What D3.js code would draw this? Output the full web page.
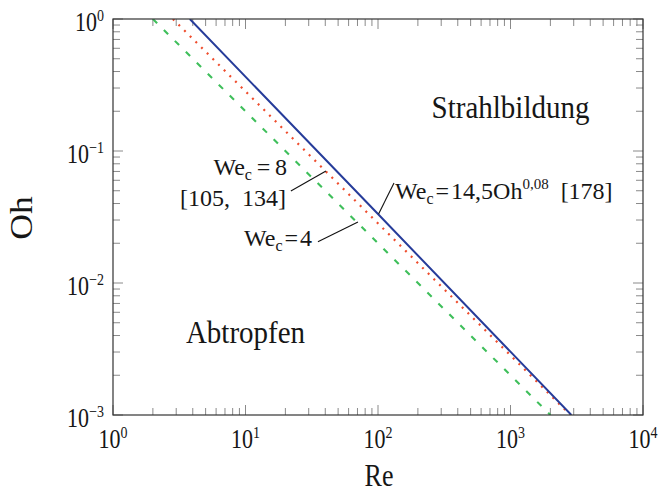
<!DOCTYPE html>
<html><head><meta charset="utf-8">
<script src="https://cdn.jsdelivr.net/npm/d3@7"></script>
<style>
body{margin:0;background:#fff}
svg text{font-family:"Liberation Serif","Times New Roman",serif;fill:#161616}
</style>
</head><body>
<svg id="c" width="661" height="494"></svg>
<script>
// ---- data ----
const xDomain = [1, 1e4];
const yDomain = [1e-3, 1];
const xTickExps = [0, 1, 2, 3, 4];
const yTickExps = [-3, -2, -1, 0];
// We_c = 4 (green dashed)
const reWe4 = [2, 2000];
const ohWe4 = [1, 0.001];
// We_c = 8 (red dotted)
const reWe8 = [2.83, 2830];
const ohWe8 = [1, 0.001];
// We_c = 14,5 Oh^0,08 (blue solid)
const reWeOh = [3.8, 100, 2880];
const ohWeOh = [1, 0.0333, 0.001];
// leader lines [Re0, Oh0, Re1, Oh1]
const leaderWe8 = [22.0, 0.0498, 40.5, 0.0705];
const leaderWe4 = [35.2, 0.0205, 70.6, 0.029];
const leaderWeOh = [101, 0.0333, 132, 0.0573];
// label anchors [Re, Oh]
const posWe8 = [20.6, 0.0655];
const posRef8 = [20.2, 0.0385];
const posWe4 = [31.8, 0.0191];
const posWeOh = [134.4, 0.0433];
const posStrahl = [1000, 0.178];
const posAbtropf = [10, 0.0035];

// ---- layout ----
const svg = d3.select("#c");
const L = 113, R = 643, T = 19, B = 415;
const x = d3.scaleLog().domain(xDomain).range([L, R]);
const y = d3.scaleLog().domain(yDomain).range([B, T]);

svg.append("defs").append("clipPath").attr("id","clip")
  .append("rect").attr("x",L).attr("y",T).attr("width",R-L).attr("height",B-T);

// ticks (inside, on all four sides)
const tickCol = "#8a8a8a";
const tg = svg.append("g").attr("stroke", tickCol).attr("stroke-width", 1);
function decadeTicks(exps){
  const out=[];
  for (let i=0;i<exps.length;i++){
    out.push({v:Math.pow(10,exps[i]), major:true});
    if (i<exps.length-1) for (let k=2;k<=9;k++) out.push({v:k*Math.pow(10,exps[i]), major:false});
  }
  return out;
}
decadeTicks(xTickExps).forEach(t=>{
  const px = x(t.v), len = t.major?10:7;
  tg.append("line").attr("x1",px).attr("x2",px).attr("y1",B).attr("y2",B-len);
  tg.append("line").attr("x1",px).attr("x2",px).attr("y1",T).attr("y2",T+len);
});
decadeTicks(yTickExps).forEach(t=>{
  const py = y(t.v), len = t.major?10:7;
  tg.append("line").attr("x1",L).attr("x2",L+len).attr("y1",py).attr("y2",py);
  tg.append("line").attr("x1",R).attr("x2",R-len).attr("y1",py).attr("y2",py);
});

// curves
const line = d3.line().x(d=>x(d[0])).y(d=>y(d[1]));
const cg = svg.append("g").attr("clip-path","url(#clip)").attr("fill","none");
cg.append("path").datum(reWe4.map((r,i)=>[r,ohWe4[i]])).attr("d",line)
  .attr("stroke","#3fbf5b").attr("stroke-width",2.1).attr("stroke-dasharray","6,9.5");
cg.append("path").datum(reWe8.map((r,i)=>[r,ohWe8[i]])).attr("d",line)
  .attr("stroke","#ef4c2c").attr("stroke-width",2.2).attr("stroke-dasharray","2,6");
cg.append("path").datum(reWeOh.map((r,i)=>[r,ohWeOh[i]])).attr("d",line)
  .attr("stroke","#263c9a").attr("stroke-width",2);

// frame
svg.append("rect").attr("x",L).attr("y",T).attr("width",R-L).attr("height",B-T)
  .attr("fill","none").attr("stroke","#333").attr("stroke-width",1.2);

// tick labels
function powLabel(g, px, py, e, anchor){
  const t = g.append("text").attr("transform",`translate(${px},${py}) scale(1,1.2)`)
    .attr("text-anchor",anchor).style("font-size","22px");
  t.append("tspan").text("10");
  t.append("tspan").attr("dy",-8.5).style("font-size","14px").text(e<0?"\u2212"+(-e):String(e));
}
const lg = svg.append("g");
xTickExps.forEach(e=>powLabel(lg, x(Math.pow(10,e)), B+33, e, "middle"));
yTickExps.forEach(e=>powLabel(lg, L-9, y(Math.pow(10,e))+12, e, "end"));

// axis labels
svg.append("text").attr("transform",`translate(${x(100)+1},486) scale(1,1.2)`)
  .attr("text-anchor","middle").style("font-size","26px").text("Re");
svg.append("text").attr("transform",`translate(32,${(T+B)/2+1}) rotate(-90) scale(1.15,1)`)
  .attr("text-anchor","middle").style("font-size","31px").text("Oh");

// leader lines
const ann = svg.append("g").attr("stroke","#111").attr("stroke-width",1.1);
[leaderWe8, leaderWe4, leaderWeOh].forEach(l=>{
  ann.append("line").attr("x1",x(l[0])).attr("y1",y(l[1])).attr("x2",x(l[2])).attr("y2",y(l[3]));
});

// annotation texts
function weText(px, py, anchor){
  const t = svg.append("text").attr("x",px).attr("y",py).attr("text-anchor",anchor).style("font-size","24px");
  t.append("tspan").text("We");
  t.append("tspan").attr("dy",5).style("font-size","16px").text("c");
  return t;
}
let t8 = weText(x(posWe8[0]), y(posWe8[1]), "end");
t8.append("tspan").attr("dy",-5).text("\u2009=\u20098");
svg.append("text").attr("x",x(posRef8[0])).attr("y",y(posRef8[1])).attr("text-anchor","end")
  .style("font-size","24px").text("[105,\u2002134]");
let t4 = weText(x(posWe4[0]), y(posWe4[1]), "end");
t4.append("tspan").attr("dy",-5).text("\u200A=\u200A4");
let tb = weText(x(posWeOh[0]), y(posWeOh[1]), "start");
tb.append("tspan").attr("dy",-5).text("\u200A=\u200A14,5Oh");
tb.append("tspan").attr("dy",-10).style("font-size","15px").text("0,08");
tb.append("tspan").attr("dy",10).text("\u2002[178]");

// region labels
svg.append("text").attr("transform",`translate(${x(posStrahl[0])},${y(posStrahl[1])}) scale(1,1.07)`)
  .attr("text-anchor","middle").style("font-size","29px").text("Strahlbildung");
svg.append("text").attr("transform",`translate(${x(posAbtropf[0])},${y(posAbtropf[1])}) scale(1,1.07)`)
  .attr("text-anchor","middle").style("font-size","29px").text("Abtropfen");
</script>
</body></html>
